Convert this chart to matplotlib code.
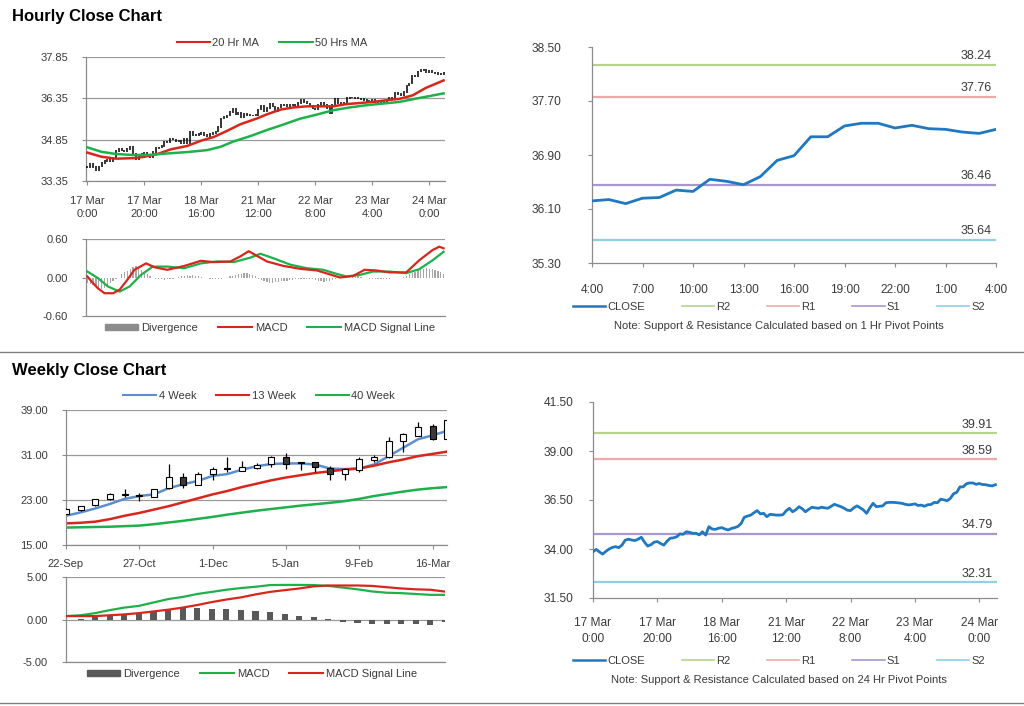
import numpy as np
import matplotlib
matplotlib.use("Agg")
import matplotlib.pyplot as plt
from matplotlib.lines import Line2D
from matplotlib.patches import Patch, Rectangle
from matplotlib.ticker import FormatStrFormatter

plt.rcParams['font.family'] = ['Liberation Sans', 'DejaVu Sans']

# ---------------- DATA ----------------
hourly_close = [
    33.86, 33.98, 33.85, 33.74, 33.88, 34.00, 34.08, 34.12, 34.07, 34.20,
    34.45, 34.50, 34.46, 34.43, 34.50, 34.60, 34.35, 34.15, 34.22, 34.35,
    34.38, 34.28, 34.20, 34.40, 34.55, 34.57, 34.62, 34.77, 34.75, 34.88,
    34.85, 34.80, 34.80, 34.72, 34.88, 34.71, 35.14, 35.02, 35.00, 35.06,
    35.09, 35.02, 34.97, 35.05, 35.09, 35.15, 35.30, 35.62, 35.68, 35.73,
    35.85, 35.96, 35.79, 35.82, 35.65, 35.77, 35.75, 35.73, 35.73, 35.75,
    35.95, 36.08, 35.90, 36.00, 36.16, 36.05, 35.90, 36.02, 36.13, 36.10,
    36.08, 36.13, 36.10, 36.08, 36.18, 36.28, 36.22, 36.16, 36.08, 35.98,
    35.96, 36.10, 36.20, 36.10, 35.99, 35.82, 36.10, 36.33, 36.16, 36.18,
    36.20, 36.36, 36.38, 36.38, 36.37, 36.35, 36.33, 36.28, 36.25, 36.27,
    36.30,
    36.22, 36.24, 36.18, 36.26, 36.27, 36.38, 36.36, 36.54, 36.51, 36.46,
    36.58, 36.82, 36.89, 37.17, 37.17, 37.33, 37.37, 37.37, 37.30, 37.34,
    37.29, 37.28, 37.24, 37.22, 37.28,
]
hour_ticks = [0, 20, 40, 60, 80, 100, 120]
hour_tick_labels = ['17 Mar\n0:00', '17 Mar\n20:00', '18 Mar\n16:00', '21 Mar\n12:00',
                    '22 Mar\n8:00', '23 Mar\n4:00', '24 Mar\n0:00']

ma20_hours = [0, 4.9, 10, 16.5, 20, 24.6, 29.3, 35, 39.8, 44.4, 49, 53.7, 59.5, 63, 67.7,
              72.3, 77, 81.6, 86.3, 90.9, 95.6, 100.2, 104.9, 109.5, 114.2, 118.8, 125]
ma20_vals = [34.38, 34.23, 34.16, 34.18, 34.23, 34.33, 34.50, 34.62, 34.81, 34.95, 35.17,
             35.41, 35.62, 35.77, 35.94, 36.02, 36.06, 36.06, 36.06, 36.14, 36.18, 36.22,
             36.28, 36.33, 36.46, 36.73, 37.00]
ma50_hours = [0, 4.9, 10, 16.5, 22.3, 28.1, 35, 42, 46.7, 51.4, 57.2, 63, 68.8, 74.6, 80.5,
              86.3, 92.1, 97.9, 103.7, 109.5, 115.3, 120, 125]
ma50_vals = [34.57, 34.41, 34.33, 34.29, 34.30, 34.35, 34.40, 34.47, 34.59, 34.79, 34.98,
             35.20, 35.40, 35.61, 35.76, 35.92, 36.02, 36.10, 36.16, 36.22, 36.34, 36.43, 36.53]

macd_h_hours = [0, 1.4, 3.7, 6, 9, 11.3, 13.6, 16.5, 20.6, 23.5, 28, 34, 39.8, 44.4, 50.2,
                53.7, 56.6, 59, 63, 68.8, 74.7, 80.5, 85, 88.6, 93.3, 97.3, 101.4, 106,
                111.9, 116.5, 121.2, 123.5, 125]
macd_h_vals = [0.016, -0.06, -0.17, -0.245, -0.245, -0.19, -0.06, 0.12, 0.22, 0.16, 0.12,
               0.18, 0.26, 0.24, 0.25, 0.33, 0.41, 0.35, 0.25, 0.18, 0.135, 0.11, 0.05, 0.0,
               0.026, 0.12, 0.11, 0.08, 0.08, 0.27, 0.43, 0.48, 0.455]
sig_h_hours = [0, 3.7, 7.2, 11.3, 14.8, 18.8, 22.9, 28, 34, 39.8, 45.6, 51.4, 57.2, 60.7,
               65.3, 71.2, 77, 82.8, 87.4, 90.9, 95.6, 100.2, 106, 111.9, 116.5, 121.2, 125]
sig_h_vals = [0.093, -0.01, -0.14, -0.22, -0.14, 0.04, 0.17, 0.17, 0.145, 0.22, 0.25, 0.24,
              0.31, 0.37, 0.30, 0.20, 0.145, 0.12, 0.057, 0.016, 0.04, 0.093, 0.093, 0.067,
              0.13, 0.27, 0.40]
div_hourly = [
    -0.08, -0.10, -0.12, -0.15, -0.17, -0.18, -0.16, -0.12, -0.08, -0.05, -0.02, 0.0,
    0.05, 0.08, 0.10, 0.13, 0.16, 0.18, 0.16, 0.12, 0.08, 0.05, 0.02, 0.0,
    -0.02, -0.03, -0.03, -0.04, -0.03, -0.03, -0.02, -0.01,
    0.01, 0.02, 0.03, 0.04, 0.03, 0.04, 0.03, 0.02, 0.01, 0.0,
    -0.01, -0.02, -0.02, -0.03, -0.02, -0.02, -0.01, 0.0,
    0.02, 0.03, 0.04, 0.05, 0.06, 0.07, 0.07, 0.06, 0.04, 0.02,
    -0.02, -0.04, -0.06, -0.07, -0.08, -0.08, -0.07, -0.07, -0.06, -0.05, -0.05, -0.04,
    -0.04, -0.03, -0.03, -0.03, -0.02, -0.02, -0.03, -0.03, -0.04, -0.05, -0.06, -0.07,
    -0.06, -0.05, -0.04, -0.02,
    0.0, 0.01, 0.02, 0.01, 0.01, 0.02, 0.03, 0.02, 0.01, 0.0,
    -0.01, -0.02, -0.02, -0.03, -0.03, -0.02, -0.03, -0.02, -0.02, -0.01, -0.01, -0.01, 0.0, 0.01,
    0.03, 0.05, 0.07, 0.09, 0.11, 0.13, 0.14, 0.15, 0.14, 0.13, 0.12, 0.10, 0.08, 0.06,
]

last24_ticks = [0, 3, 6, 9, 12, 15, 18, 21, 24]
last24_labels = ['4:00', '7:00', '10:00', '13:00', '16:00', '19:00', '22:00', '1:00', '4:00']

pivot_names = ['R2', 'R1', 'S1', 'S2']
pivot_colors = ['#b5d38a', '#f0a9a9', '#a996cf', '#8fd0e6']
pivot_1h = [38.24, 37.76, 36.46, 35.64]
pivot_24h = [39.91, 38.59, 34.79, 32.31]

week_open = [20.6, 21.2, 22.1, 23.1, 23.85, 23.75, 23.6, 25.1, 27.15, 25.7, 27.6, 28.55, 28.2,
             28.65, 29.35, 30.6, 29.7, 29.7, 28.7, 27.6, 28.3, 30.2, 30.6, 33.5, 34.4, 36.1, 33.9]
week_high = [21.5, 22.0, 23.2, 24.2, 24.9, 24.2, 25.0, 29.35, 27.86, 28.03, 28.92, 30.58, 29.93,
             29.5, 30.8, 31.3, 29.8, 29.8, 29.0, 28.7, 30.6, 31.0, 34.26, 35.0, 36.9, 36.5, 37.3]
week_low = [20.5, 21.1, 22.0, 23.0, 23.45, 22.9, 23.5, 24.9, 25.08, 25.6, 26.5, 28.03, 28.1,
            28.5, 28.9, 28.6, 28.3, 28.0, 26.6, 26.56, 28.0, 29.7, 30.5, 31.6, 34.3, 33.7, 33.8]
week_close = [21.35, 21.9, 23.1, 24.0, 23.95, 23.8, 24.9, 27.15, 25.7, 27.6, 28.6, 28.7, 28.8,
              29.3, 30.7, 29.4, 29.6, 28.8, 27.7, 28.6, 30.3, 30.7, 33.55, 34.7, 36.0, 33.8, 37.2]
ma4_week = [20.2, 20.8, 21.5, 22.3, 23.2, 23.7, 24.0, 25.1, 25.8, 26.4, 27.3, 27.6, 28.4, 29.0,
            29.4, 29.5, 29.5, 29.3, 28.6, 28.5, 28.6, 29.3, 30.8, 32.3, 33.8, 34.5, 35.3]
ma13_week = [18.85, 18.95, 19.15, 19.6, 20.2, 20.7, 21.3, 21.9, 22.6, 23.3, 24.0, 24.6, 25.3,
             25.9, 26.5, 27.0, 27.4, 27.8, 28.1, 28.4, 28.6, 29.1, 29.7, 30.2, 30.8, 31.2, 31.6]
ma40_week = [18.1, 18.15, 18.2, 18.25, 18.35, 18.45, 18.7, 19.0, 19.3, 19.65, 20.0, 20.4, 20.75,
             21.1, 21.4, 21.7, 22.0, 22.25, 22.5, 22.8, 23.2, 23.7, 24.1, 24.5, 24.85, 25.1, 25.3]
wk_macd = [0.4, 0.5, 0.75, 1.1, 1.4, 1.6, 2.0, 2.4, 2.65, 3.0, 3.25, 3.5, 3.7, 3.85, 4.05, 4.07,
           4.07, 4.05, 3.95, 3.75, 3.55, 3.3, 3.15, 3.1, 3.0, 2.9, 2.9]
wk_signal = [0.4, 0.4, 0.4, 0.5, 0.6, 0.75, 0.95, 1.15, 1.4, 1.7, 2.05, 2.35, 2.6, 2.95, 3.25,
             3.45, 3.65, 3.9, 4.0, 4.0, 4.0, 3.95, 3.8, 3.65, 3.55, 3.5, 3.28]
wk_div = [0.0, 0.1, 0.3, 0.5, 0.7, 0.8, 0.95, 1.1, 1.35, 1.3, 1.25, 1.2, 1.1, 0.95, 0.85, 0.7,
          0.45, 0.25, 0.05, -0.3, -0.4, -0.55, -0.55, -0.55, -0.55, -0.6, -0.3]
week_ticks = [0, 5, 10, 15, 20, 25]
week_tick_labels = ['22-Sep', '27-Oct', '1-Dec', '5-Jan', '9-Feb', '16-Mar']

# ---------------- FIGURE ----------------
W, H = 1024, 706
fig = plt.figure(figsize=(W / 100, H / 100), dpi=100)
fig.patch.set_facecolor('white')

GRID = '#9a9a9a'
SPINE = '#8c8c8c'
TXT = '#3a3a3a'
FS = 8.0
FS_R = 8.6


def ax_px(l, t, r, b):
    return fig.add_axes([l / W, 1 - b / H, (r - l) / W, (b - t) / H])


def style(ax, grid=True, fs=FS, xpad=6, ypad=9):
    for s in ['top', 'right']:
        ax.spines[s].set_visible(False)
    for s in ['left', 'bottom']:
        ax.spines[s].set_color(SPINE)
        ax.spines[s].set_linewidth(0.9)
    ax.tick_params(axis='both', labelsize=fs, colors=SPINE, labelcolor=TXT, length=3, width=0.8)
    ax.tick_params(axis='x', pad=xpad)
    ax.tick_params(axis='y', pad=ypad)
    if grid:
        ax.yaxis.grid(True, color=GRID, linewidth=0.9)
        ax.set_axisbelow(True)


def multiline_ticks(ax, ticks, labels):
    ax.set_xticks(ticks)
    ax.set_xticklabels(labels, linespacing=1.35)


RED = '#d9261c'
GREEN = '#1fb04b'
BLUE = '#5b8fd0'
CLOSE_BLUE = '#1f78c1'

hours = np.arange(len(hourly_close))

# ---- Hourly main (candles + MAs)
a1 = ax_px(86, 57, 445, 181)
style(a1, xpad=8, ypad=10)
opens = [hourly_close[0]] + hourly_close[:-1]
lo = np.minimum(opens, hourly_close)
hi = np.maximum(opens, hourly_close)
a1.vlines(hours, lo - 0.03, hi + 0.03, color='black', linewidth=1.1, zorder=3)
a1.plot(ma20_hours, ma20_vals, color=RED, linewidth=1.8, zorder=4, label='20 Hr MA')
a1.plot(ma50_hours, ma50_vals, color=GREEN, linewidth=1.8, zorder=4, label='50 Hrs MA')
a1.set_ylim(33.35, 37.85)
a1.set_yticks([33.35, 34.85, 36.35, 37.85])
a1.yaxis.set_major_formatter(FormatStrFormatter('%.2f'))
a1.set_xlim(-0.5, 125.5)
multiline_ticks(a1, hour_ticks, hour_tick_labels)
fig.legend(handles=[Line2D([], [], color=RED, lw=1.5), Line2D([], [], color=GREEN, lw=1.5)],
           labels=['20 Hr MA', '50 Hrs MA'], loc='center', bbox_to_anchor=(272 / W, 1 - 43 / H),
           ncol=2, frameon=False, fontsize=FS, handlelength=3, handletextpad=0.2,
           columnspacing=1.8, labelcolor=TXT)

# ---- Hourly MACD
a2 = ax_px(86, 239, 445, 316)
style(a2, ypad=10)
a2.bar(hours, div_hourly, width=0.45, color='#a6a6a6', zorder=2)
a2.plot(macd_h_hours, macd_h_vals, color=RED, linewidth=1.6, zorder=4)
a2.plot(sig_h_hours, sig_h_vals, color=GREEN, linewidth=1.6, zorder=3)
a2.set_ylim(-0.6, 0.6)
a2.set_yticks([-0.6, 0.0, 0.6])
a2.yaxis.set_major_formatter(FormatStrFormatter('%.2f'))
a2.yaxis.grid(False)
a2.axhline(0.6, color=GRID, lw=0.9, zorder=1)
a2.set_xlim(-0.5, 125.5)
a2.set_xticks([])
fig.legend(handles=[Patch(color='#8c8c8c'), Line2D([], [], color=RED, lw=1.5),
                    Line2D([], [], color=GREEN, lw=1.5)],
           labels=['Divergence', 'MACD', 'MACD Signal Line'], loc='center',
           bbox_to_anchor=(270 / W, 1 - 328 / H), ncol=3, frameon=False, fontsize=FS,
           handlelength=3, handleheight=0.5, handletextpad=0.3, columnspacing=1.8, labelcolor=TXT)


def pivot_panel(ax, xs, ys, pivots, ylim, yticks, xlim, xpad, ypad):
    style(ax, grid=False, fs=FS_R, xpad=xpad, ypad=ypad)
    ax.plot(xs, ys, color=CLOSE_BLUE, linewidth=2.0, zorder=4)
    for v, c in zip(pivots, pivot_colors):
        ax.axhline(v, color=c, linewidth=1.6, zorder=2)
        ax.text(0.99, v + (ylim[1] - ylim[0]) * 0.012, '%.2f' % v, transform=ax.get_yaxis_transform(),
                ha='right', va='bottom', fontsize=9, color=TXT)
    ax.set_ylim(*ylim)
    ax.set_yticks(yticks)
    ax.yaxis.set_major_formatter(FormatStrFormatter('%.2f'))
    ax.set_xlim(*xlim)


def pivot_legend(cx, cy, note, ny):
    handles = [Line2D([], [], color=CLOSE_BLUE, lw=1.8)] + \
              [Line2D([], [], color=c, lw=1.2) for c in pivot_colors]
    fig.legend(handles=handles, labels=['CLOSE'] + pivot_names, loc='center',
               bbox_to_anchor=(cx / W, 1 - cy / H), ncol=5, frameon=False, fontsize=FS,
               handlelength=2.9, handletextpad=0.2, columnspacing=3.3, labelcolor=TXT)
    fig.text(cx / W, 1 - ny / H, note, ha='center', va='center', fontsize=FS, color=TXT)


# ---- Top right: last 24 hours with 1 Hr pivots
a3 = ax_px(592, 47, 996, 263)
last = hourly_close[-25:]
pivot_panel(a3, np.arange(len(last)), last, pivot_1h, (35.30, 38.50),
            [35.30, 36.10, 36.90, 37.70, 38.50], (0, 24), xpad=12, ypad=19)
a3.set_xticks(last24_ticks)
a3.set_xticklabels(last24_labels)
pivot_legend(779, 307, 'Note: Support & Resistance Calculated based on 1 Hr Pivot Points', 326)

# ---- Weekly main
a4 = ax_px(66, 410, 447, 545)
style(a4, xpad=7, ypad=10)
a4.plot(range(len(ma4_week)), ma4_week, color=BLUE, linewidth=1.8, zorder=2)
a4.plot(range(len(ma13_week)), ma13_week, color=RED, linewidth=1.8, zorder=2)
a4.plot(range(len(ma40_week)), ma40_week, color=GREEN, linewidth=1.8, zorder=2)
for i, (o, h, l, c) in enumerate(zip(week_open, week_high, week_low, week_close)):
    a4.vlines(i, l, h, color='black', linewidth=0.9, zorder=3)
    bot = min(o, c)
    hgt = max(abs(c - o), 0.18)
    fc = 'white' if c >= o else '#3a3a3a'
    a4.add_patch(Rectangle((i - 0.2, bot), 0.4, hgt, facecolor=fc, edgecolor='black',
                           linewidth=0.8, zorder=4))
a4.set_ylim(15, 39)
a4.set_yticks([15, 23, 31, 39])
a4.yaxis.set_major_formatter(FormatStrFormatter('%.2f'))
a4.set_xlim(0, 25.98)
a4.set_xticks(week_ticks)
a4.set_xticklabels(week_tick_labels)
fig.legend(handles=[Line2D([], [], color=BLUE, lw=1.5), Line2D([], [], color=RED, lw=1.5),
                    Line2D([], [], color=GREEN, lw=1.5)],
           labels=['4 Week', '13 Week', '40 Week'], loc='center',
           bbox_to_anchor=(259 / W, 1 - 396 / H), ncol=3, frameon=False, fontsize=FS,
           handlelength=3, handletextpad=0.2, columnspacing=1.8, labelcolor=TXT)

# ---- Weekly MACD
a5 = ax_px(66, 577, 445, 662)
style(a5, ypad=10)
a5.bar(range(len(wk_div)), wk_div, width=0.42, color='#595959', zorder=2)
a5.plot(range(len(wk_macd)), wk_macd, color=GREEN, linewidth=1.6, zorder=3)
a5.plot(range(len(wk_signal)), wk_signal, color=RED, linewidth=1.6, zorder=4)
a5.set_ylim(-5, 5)
a5.set_yticks([-5, 0, 5])
a5.yaxis.set_major_formatter(FormatStrFormatter('%.2f'))
a5.set_xlim(0, 26)
a5.set_xticks([])
fig.legend(handles=[Patch(color='#595959'), Line2D([], [], color=GREEN, lw=1.5),
                    Line2D([], [], color=RED, lw=1.5)],
           labels=['Divergence', 'MACD', 'MACD Signal Line'], loc='center',
           bbox_to_anchor=(252 / W, 1 - 674 / H), ncol=3, frameon=False, fontsize=FS,
           handlelength=3, handleheight=0.5, handletextpad=0.3, columnspacing=1.8, labelcolor=TXT)

# ---- Bottom right: hourly close with 24 Hr pivots
a6 = ax_px(593, 402, 997, 598)
pivot_panel(a6, hours, hourly_close, pivot_24h, (31.50, 41.50),
            [31.50, 34.00, 36.50, 39.00, 41.50], (0, 125.5), xpad=11, ypad=11)
multiline_ticks(a6, hour_ticks, hour_tick_labels)
pivot_legend(779, 661, 'Note: Support & Resistance Calculated based on 24 Hr Pivot Points', 680)

# ---- Titles and separators
fig.text(12 / W, 1 - 16 / H, 'Hourly Close Chart', fontsize=12, fontweight='bold',
         ha='left', va='center', color='black')
fig.text(12 / W, 1 - 370 / H, 'Weekly Close Chart', fontsize=12, fontweight='bold',
         ha='left', va='center', color='black')
fig.add_artist(Line2D([0, 1], [1 - 352 / H, 1 - 352 / H], color='#808080', lw=1.0))
fig.add_artist(Line2D([0, 1], [1 - 703 / H, 1 - 703 / H], color='#808080', lw=1.0))

fig.savefig('out.png', dpi=100, facecolor='white')
